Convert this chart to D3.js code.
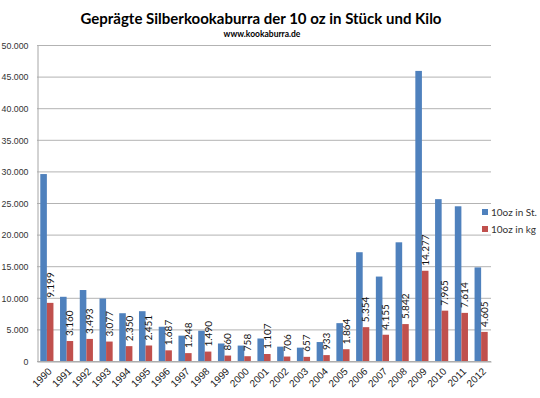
<!DOCTYPE html>
<html>
<head>
<meta charset="utf-8">
<script src="https://cdn.jsdelivr.net/npm/d3@7"></script>
<style>
  body { margin: 0; background: #fff; }
  svg { display: block; font-family: Lato, "Open Sans", sans-serif; }
</style>
</head>
<body>
<svg width="540" height="398"></svg>
<script>
// years on the x axis
var years = ["1990","1991","1992","1993","1994","1995","1996","1997","1998","1999","2000",
             "2001","2002","2003","2004","2005","2006","2007","2008","2009","2010","2011","2012"];
// 10oz coins minted (pieces)
var stueck = [29580, 10160, 11230, 9890, 7560, 7880, 5420, 4010, 4790, 2770, 2440,
              3560, 2270, 2110, 3000, 5990, 17210, 13360, 18780, 45900, 25610, 24480, 14810];
// 10oz minted in kg, from data labels
var kilo = [9199, 3160, 3493, 3077, 2350, 2451, 1687, 1248, 1490, 860, 758,
            1107, 706, 657, 933, 1864, 5354, 4155, 5842, 14277, 7965, 7614, 4605];
var seriesNames = ["10oz in St.", "10oz in kg"];
var colors = ["#4f81bd", "#c0504d"];
var yTicks = [0, 5000, 10000, 15000, 20000, 25000, 30000, 35000, 40000, 45000, 50000];

var svg = d3.select("svg");
var plotL = 37, plotR = 491, plotT = 45, plotB = 361;

var fmt = d3.formatLocale({decimal: ",", thousands: ".", grouping: [3], currency: ["", " €"]}).format(",d");

var x = d3.scaleBand().domain(years).range([plotL, plotR]);
var xs = d3.scaleBand().domain([0, 1]).range([0, x.bandwidth()]).paddingInner(0).paddingOuter(0.5);
var y = d3.scaleLinear().domain([0, 50000]).range([plotB, plotT]);

// title
svg.append("text")
  .attr("x", 261).attr("y", 24)
  .attr("text-anchor", "middle")
  .attr("font-weight", "bold")
  .attr("font-size", 15)
  .attr("fill", "#000")
  .text("Geprägte Silberkookaburra der 10 oz in Stück und Kilo");

svg.append("text")
  .attr("x", 262).attr("y", 37)
  .attr("text-anchor", "middle")
  .attr("font-weight", "bold")
  .attr("font-size", 8.5)
  .attr("fill", "#000")
  .text("www.kookaburra.de");

// gridlines
svg.append("g")
  .selectAll("line")
  .data(yTicks)
  .enter().append("line")
  .attr("x1", plotL).attr("x2", plotR)
  .attr("y1", d => y(d) + 0.5).attr("y2", d => y(d) + 0.5)
  .attr("stroke", "#b3b3b3")
  .attr("stroke-width", 1);

// y axis
var yAxis = svg.append("g")
  .attr("transform", "translate(" + (plotL + 0.5) + ",0.5)")
  .call(d3.axisLeft(y).tickValues(yTicks).tickFormat(fmt).tickSize(0).tickPadding(9));
yAxis.select(".domain").attr("stroke", "#a6a6a6");
yAxis.selectAll("text").attr("font-size", 8.8).attr("fill", "#333");

// x axis
var xAxis = svg.append("g")
  .attr("transform", "translate(0," + (plotB + 0.5) + ")")
  .call(d3.axisBottom(x).tickSize(0).tickPadding(0));
xAxis.select(".domain").attr("stroke", "#a6a6a6");
xAxis.selectAll("text")
  .attr("font-size", 10).attr("fill", "#222")
  .attr("text-anchor", "end")
  .attr("y", 0).attr("dy", "0.35em")
  .attr("transform", "translate(3,8) rotate(-45)");

// bars
var rows = years.map((yr, i) => ({year: yr, vals: [stueck[i], kilo[i]]}));

var groups = svg.append("g")
  .selectAll("g")
  .data(rows)
  .enter().append("g")
  .attr("transform", d => "translate(" + x(d.year) + ",0)");

groups.selectAll("rect")
  .data(d => d.vals.map((v, k) => ({k: k, v: v})))
  .enter().append("rect")
  .attr("x", d => xs(d.k))
  .attr("width", xs.bandwidth())
  .attr("y", d => y(d.v))
  .attr("height", d => y(0) - y(d.v))
  .attr("fill", d => colors[d.k]);

// data labels on kg bars
groups.append("text")
  .attr("transform", (d, i) => "translate(" + (xs(1) + xs.bandwidth() / 2 + 3.5) + "," + (y(kilo[i]) - 5) + ") rotate(-90)")
  .attr("font-size", 10)
  .attr("fill", "#111")
  .text((d, i) => fmt(kilo[i]));

// legend
var legend = svg.append("g")
  .selectAll("g")
  .data(seriesNames)
  .enter().append("g")
  .attr("transform", (d, i) => "translate(482," + (212 + i * 17) + ")");
legend.append("rect")
  .attr("x", 0).attr("y", -3).attr("width", 6).attr("height", 6)
  .attr("fill", (d, i) => colors[i]);
legend.append("text")
  .attr("x", 9).attr("dy", "0.35em")
  .attr("font-size", 10).attr("fill", "#333")
  .text(d => d);
</script>
</body>
</html>
